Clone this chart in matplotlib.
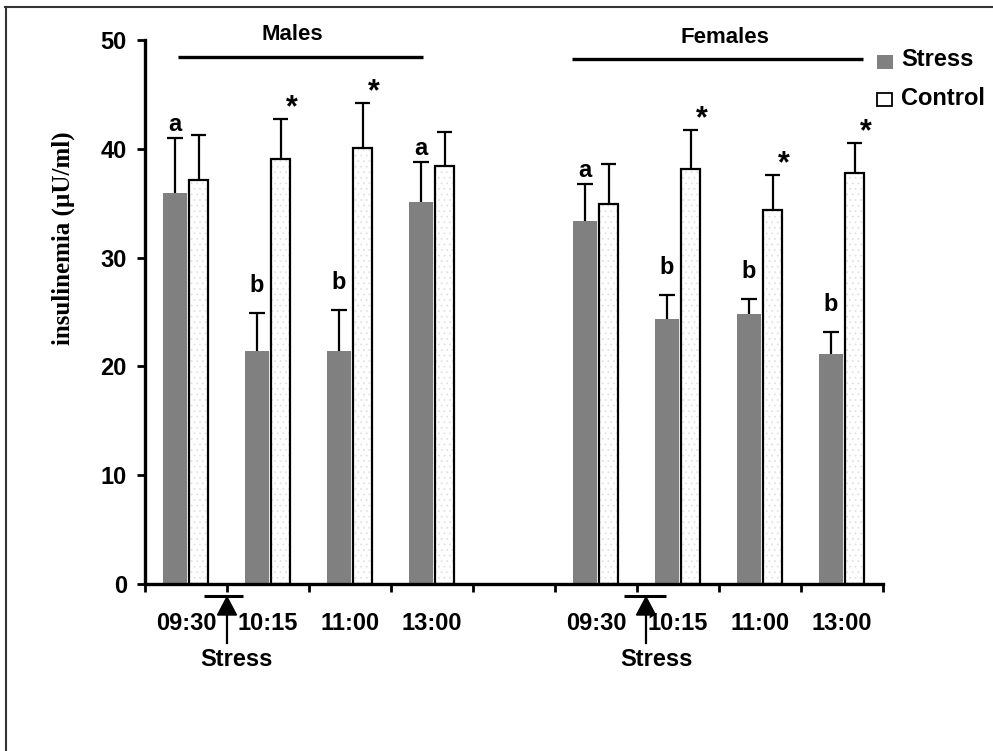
import matplotlib
matplotlib.use("Agg")
import matplotlib.pyplot as plt
from matplotlib.patches import Polygon, Rectangle
from matplotlib.lines import Line2D

plt.rcParams['font.family'] = ['Liberation Sans', 'DejaVu Sans']
plt.rcParams['font.weight'] = 'bold'
plt.rcParams['hatch.linewidth'] = 0.6

# ---- data -------------------------------------------------------------
times = ['09:30', '10:15', '11:00', '13:00']
groups = ['Males', 'Females']

male_stress = [35.9, 21.4, 21.4, 35.1]
male_stress_err = [5.1, 3.5, 3.8, 3.7]
male_control = [37.1, 39.1, 40.1, 38.4]
male_control_err = [4.2, 3.6, 4.1, 3.1]

female_stress = [33.4, 24.4, 24.8, 21.1]
female_stress_err = [3.4, 2.2, 1.4, 2.1]
female_control = [34.9, 38.1, 34.4, 37.8]
female_control_err = [3.7, 3.6, 3.2, 2.7]

male_letters = ['a', 'b', 'b', 'a']
female_letters = ['a', 'b', 'b', 'b']
male_stars = [False, True, True, False]
female_stars = [False, True, True, True]

yticks = [0, 10, 20, 30, 40, 50]

# ---- figure -----------------------------------------------------------
W, H = 993, 751
fig = plt.figure(figsize=(W / 100, H / 100), dpi=100)
ax = fig.add_axes([145 / W, 1 - 584 / H, (883 - 145) / W, (584 - 40) / H])
ax.set_xlim(0, 9)
ax.set_ylim(0, 50)

STRESS_C = '#808080'
s_off, s_w = 0.366, 0.29
c_off, c_w = 0.653, 0.232
cap_half = 0.092

male_slots = [0, 1, 2, 3]
female_slots = [5, 6, 7, 8]


def upper_errors(xs, vals, errs):
    tops = [v + e for v, e in zip(vals, errs)]
    ax.vlines(xs, vals, tops, color='black', lw=1.6, zorder=1)
    ax.hlines(tops, [x - cap_half for x in xs], [x + cap_half for x in xs],
              color='black', lw=1.6, zorder=1)


def draw_group(slots, st, st_e, ct, ct_e, letters, stars):
    xs = [s + s_off for s in slots]
    xc = [s + c_off for s in slots]
    ax.bar(xs, st, width=s_w, color=STRESS_C, linewidth=0, zorder=2)
    # dotted fill for the control bars, then their black outline
    ax.bar(xc, ct, width=c_w, color='white', edgecolor='#e2e2e2',
           hatch='...', linewidth=0, zorder=2)
    ax.bar(xc, ct, width=c_w, fill=False, edgecolor='black',
           linewidth=1.6, zorder=3)
    upper_errors(xs, st, st_e)
    upper_errors(xc, ct, ct_e)
    for x, v, e, lab in zip(xs, st, st_e, letters):
        gap = 0.6 if lab == 'a' else 1.9
        ax.text(x, v + e + gap, lab, ha='center', va='baseline',
                fontsize=17, fontweight='bold')
    for x, v, e, s in zip(xc, ct, ct_e, stars):
        if s:
            ax.text(x + 0.14, v + e + 0.25, '*', ha='center', va='baseline',
                    fontsize=22, fontweight='bold')


draw_group(male_slots, male_stress, male_stress_err, male_control,
           male_control_err, male_letters, male_stars)
draw_group(female_slots, female_stress, female_stress_err, female_control,
           female_control_err, female_letters, female_stars)

# ---- axes styling -----------------------------------------------------
for sp in ['top', 'right']:
    ax.spines[sp].set_visible(False)
for sp in ['left', 'bottom']:
    ax.spines[sp].set_linewidth(2.4)
ax.spines['bottom'].set_zorder(4)

ax.set_yticks(yticks)
ax.set_yticklabels([str(v) for v in yticks], fontsize=17, fontweight='bold')
ax.tick_params(axis='y', direction='out', length=6, width=2, pad=7)

ax.set_xticks(range(10))
ax.set_xticklabels([])
ax.tick_params(axis='x', which='major', direction='out', length=6, width=2)
label_pos = [s + 0.5 for s in male_slots + female_slots]
ax.set_xticks(label_pos, minor=True)
ax.set_xticklabels(times + times, minor=True, fontsize=17, fontweight='bold')
ax.tick_params(axis='x', which='minor', length=0, pad=20)

fig.text(63 / W, 1 - 238 / H, 'insulinemia (\u00b5U/ml)', rotation=90,
         ha='center', va='center', fontsize=18, fontweight='bold',
         family=['Liberation Serif', 'DejaVu Serif'])

# ---- group headers ----------------------------------------------------
ax.plot([0.40, 3.39], [48.4, 48.4], color='black', lw=2.4, clip_on=False,
        solid_capstyle='butt')
ax.plot([5.21, 8.76], [48.25, 48.25], color='black', lw=2.4, clip_on=False,
        solid_capstyle='butt')
ax.text(1.80, 50.5, groups[0], ha='center', va='center', fontsize=16,
        fontweight='bold', clip_on=False)
ax.text(7.07, 50.2, groups[1], ha='center', va='center', fontsize=16,
        fontweight='bold', clip_on=False)

# ---- legend -----------------------------------------------------------
ax.add_patch(Rectangle((8.93, 47.3), 0.195, 1.3, facecolor=STRESS_C,
                       edgecolor='none', clip_on=False))
ax.add_patch(Rectangle((8.93, 43.9), 0.18, 1.2, facecolor='white',
                       edgecolor='black', lw=1.3, clip_on=False))
ax.text(9.22, 48.2, 'Stress', ha='left', va='center', fontsize=17,
        fontweight='bold', clip_on=False)
ax.text(9.22, 44.65, 'Control', ha='left', va='center', fontsize=17,
        fontweight='bold', clip_on=False)

# ---- stress application markers --------------------------------------
for x0, x1, xa, xt in [(0.72, 1.195, 1.0, 1.12), (5.84, 6.35, 6.11, 6.24)]:
    ax.plot([x0, x1], [-1.10, -1.10], color='black', lw=2.2, clip_on=False,
            solid_capstyle='butt')
    ax.add_patch(Polygon([[xa, -1.19], [xa - 0.116, -2.85], [xa + 0.116, -2.85]],
                         closed=True, facecolor='black', edgecolor='black',
                         clip_on=False))
    ax.plot([xa, xa], [-2.85, -5.42], color='black', lw=1.6, clip_on=False)
    ax.text(xt, -6.9, 'Stress', ha='center', va='center', fontsize=17,
            fontweight='bold', clip_on=False)

# ---- outer frame (left and top edges) ---------------------------------
fig.add_artist(Line2D([5.5 / W, 5.5 / W], [0, 1 - 7 / H], color='#333333',
                      lw=1.5, transform=fig.transFigure))
fig.add_artist(Line2D([5 / W, 1], [1 - 7 / H, 1 - 7 / H], color='#333333',
                      lw=1.5, transform=fig.transFigure))

fig.savefig('out.png', dpi=100)
